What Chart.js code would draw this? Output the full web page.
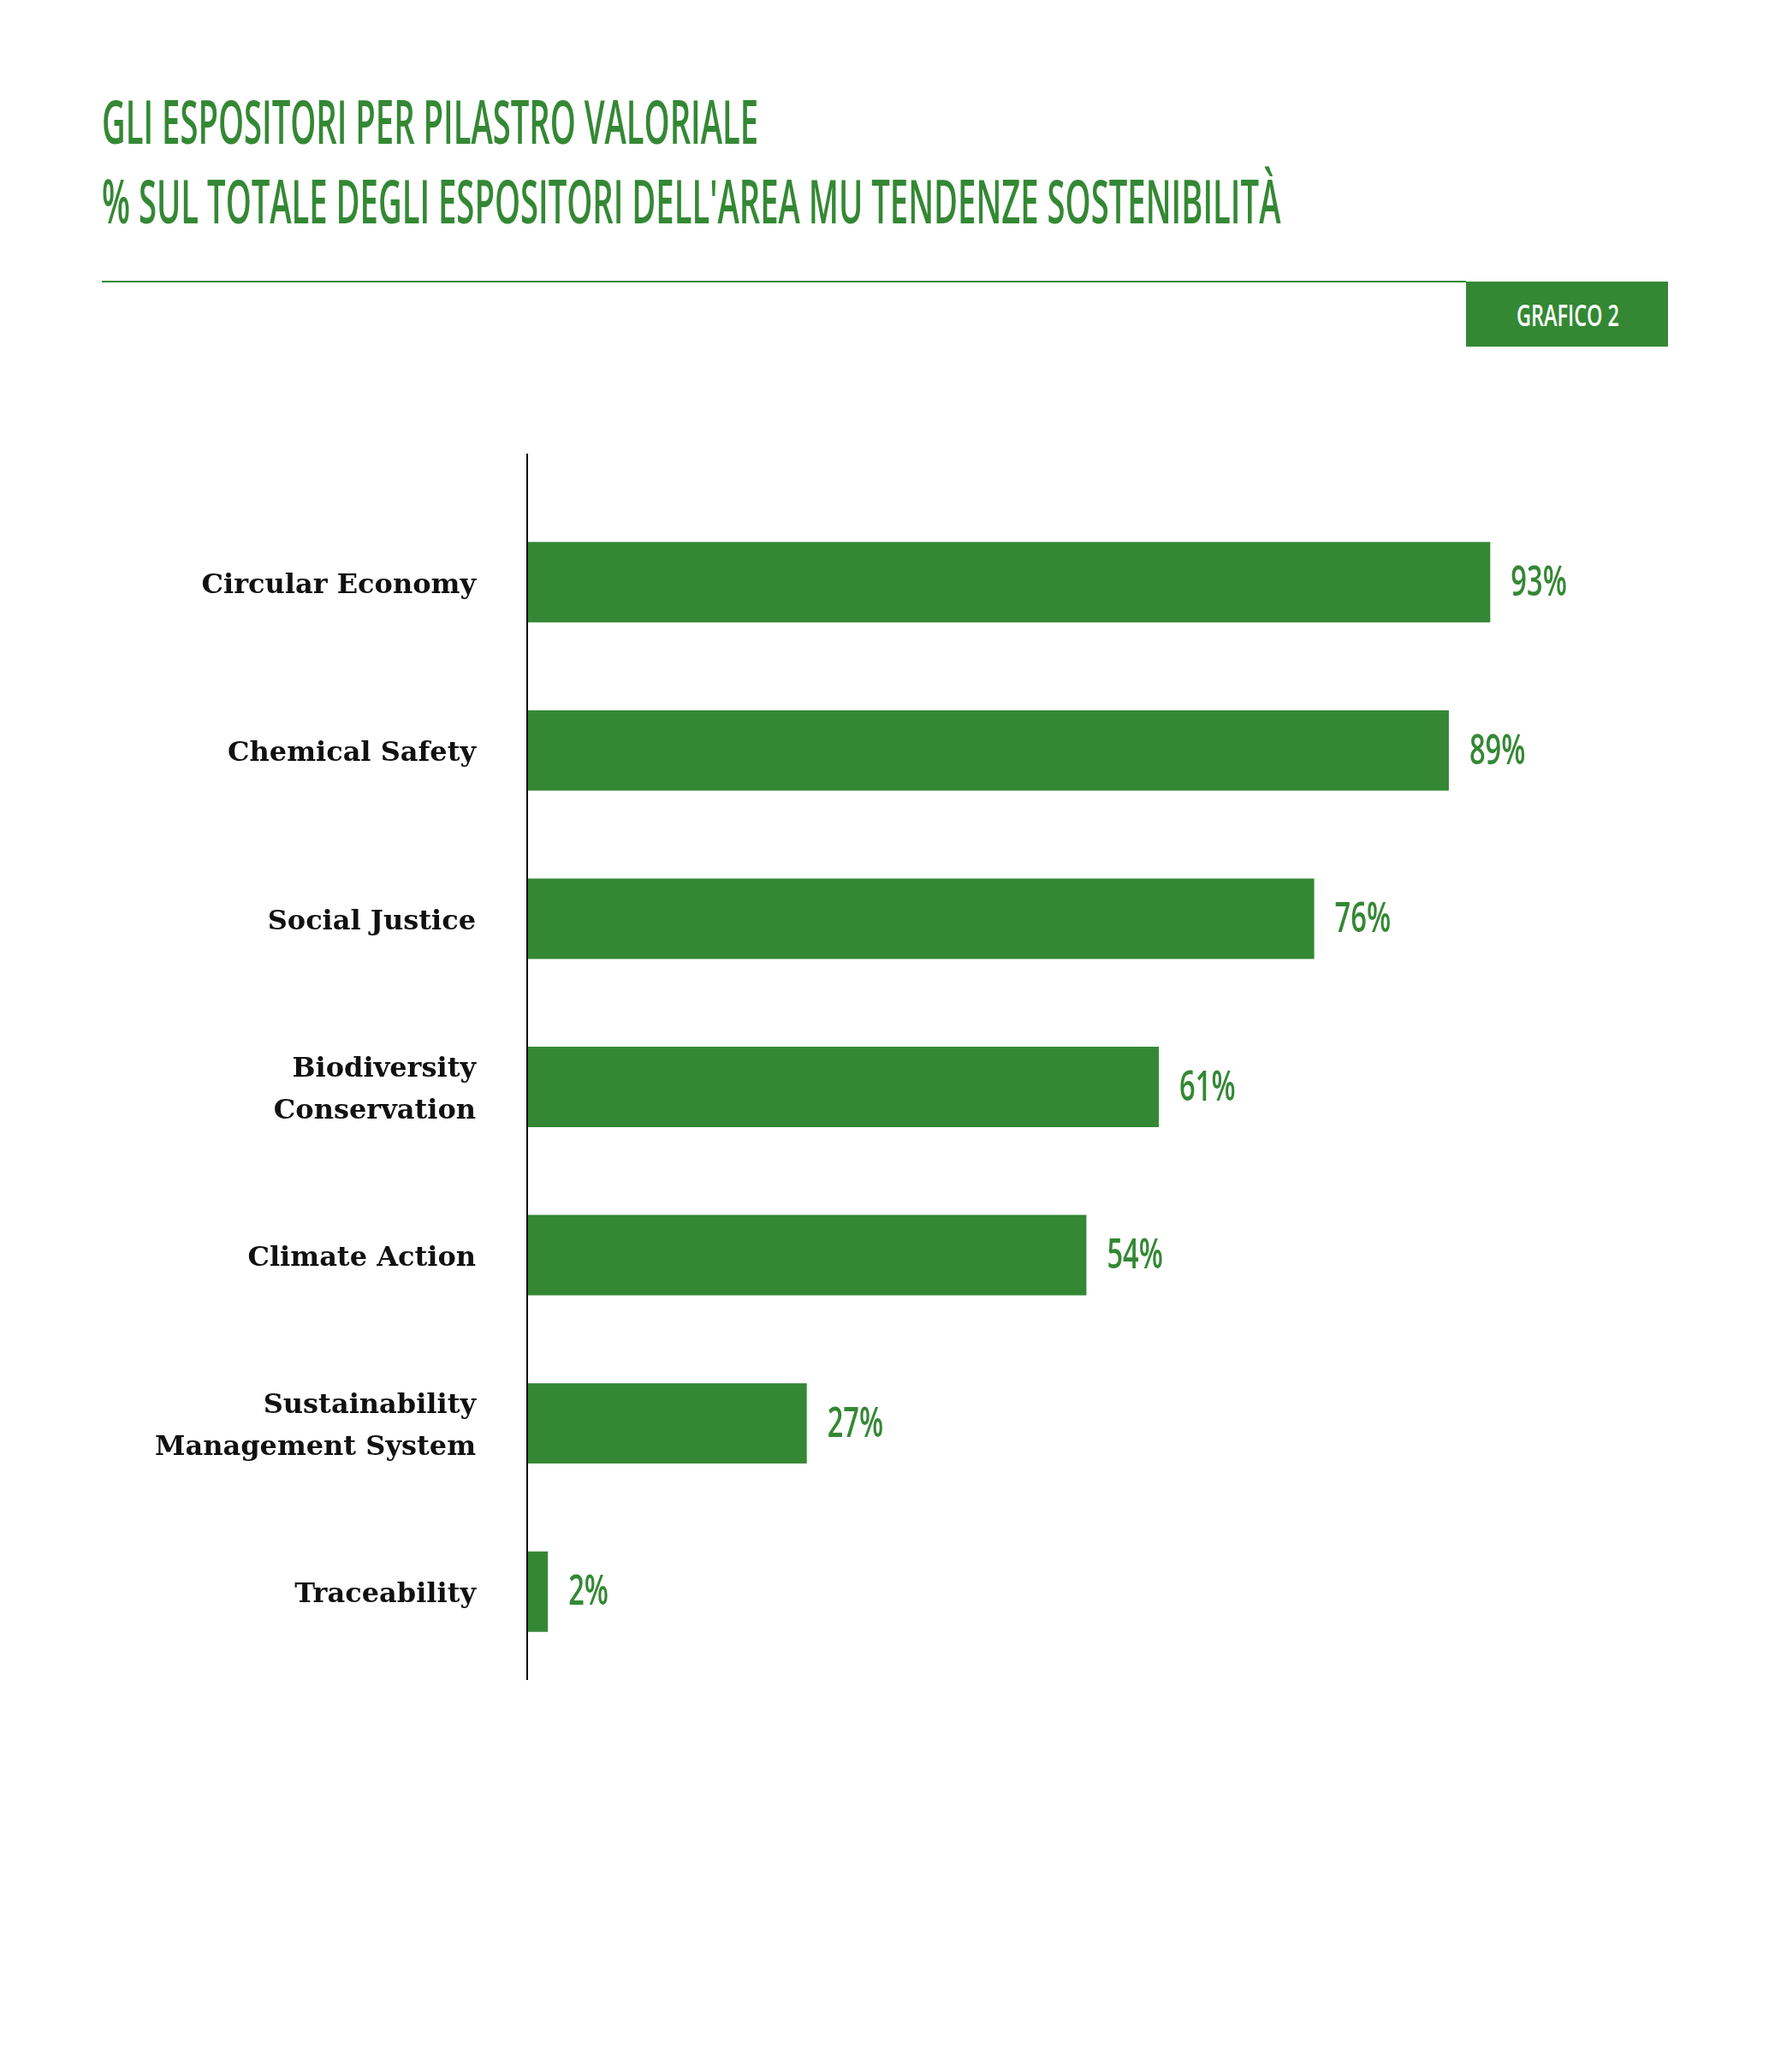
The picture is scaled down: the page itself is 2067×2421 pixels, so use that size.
<!DOCTYPE html>
<html>
<head>
<meta charset="utf-8">
<script src="https://cdn.jsdelivr.net/npm/chart.js@4.4.1/dist/chart.umd.min.js"></script>
<style>
  html, body { margin: 0; padding: 0; background: #fff; }
  body { width: 2067px; height: 2421px; position: relative; overflow: hidden; }
  .title { position: absolute; left: 119px; font-family: "Open Sans", sans-serif; font-weight: 600;
           font-size: 70px; line-height: 70px; color: #348834; white-space: nowrap;
           transform: scaleX(0.546); transform-origin: left top; }
  #rule { position: absolute; left: 119px; top: 328px; width: 1594px; height: 2px; background: #348834; }
  #tag { position: absolute; left: 1713px; top: 329px; width: 236px; height: 76px; background: #348834; }
  #tag span { position: absolute; left: 59px; top: 21px; font-family: "Open Sans", sans-serif; font-weight: 600;
              font-size: 35px; line-height: 35px; color: #fff; white-space: nowrap;
              transform: scaleX(0.67); transform-origin: left top; }
  #chart { position: absolute; left: 0; top: 0; }
</style>
</head>
<body>
<canvas id="chart" width="2067" height="2421"></canvas>
<div class="title" style="top:106px">GLI ESPOSITORI PER PILASTRO VALORIALE</div>
<div class="title" style="top:199px">% SUL TOTALE DEGLI ESPOSITORI DELL'AREA MU TENDENZE SOSTENIBILITÀ</div>
<div id="rule"></div>
<div id="tag"><span>GRAFICO 2</span></div>
<script>
// categories and values
const categories = [
    ['Circular Economy'],
    ['Chemical Safety'],
    ['Social Justice'],
    ['Biodiversity', 'Conservation'],
    ['Climate Action'],
    ['Sustainability', 'Management System'],
    ['Traceability']
];
const shares = [93, 89, 76, 61, 54, 27, 2];

const green = '#348834';

// value labels at the end of each bar, in a narrowed font
const valueLabels = {
    id: 'valueLabels',
    afterDatasetsDraw(chart) {
        const ctx = chart.ctx;
        const meta = chart.getDatasetMeta(0);
        ctx.save();
        ctx.fillStyle = green;
        ctx.font = '600 48px "Open Sans"';
        ctx.textBaseline = 'middle';
        meta.data.forEach((bar, i) => {
            ctx.save();
            ctx.translate(bar.x + 24, bar.y + 2);
            ctx.scale(0.68, 1);
            ctx.fillText(shares[i] + '%', 0, 0);
            ctx.restore();
        });
        ctx.restore();
    }
};

// vertical axis line, a bit longer than the bars' area
const axisLine = {
    id: 'axisLine',
    afterDraw(chart) {
        const ctx = chart.ctx;
        const x = chart.scales.x.getPixelForValue(0);
        ctx.save();
        ctx.strokeStyle = '#000';
        ctx.lineWidth = 2;
        ctx.beginPath();
        ctx.moveTo(x, chart.chartArea.top - 52);
        ctx.lineTo(x, chart.chartArea.bottom + 5);
        ctx.stroke();
        ctx.restore();
    }
};

const ctx = document.getElementById('chart').getContext('2d');
new Chart(ctx, {
    type: 'bar',
    data: {
        labels: categories,
        datasets: [{
            data: shares,
            backgroundColor: green,
            borderWidth: 0,
            categoryPercentage: 1,
            barPercentage: 0.478
        }]
    },
    options: {
        indexAxis: 'y',
        responsive: false,
        animation: false,
        layout: { padding: { top: 582, bottom: 463, left: 0, right: 241 } },
        plugins: { legend: { display: false }, tooltip: { enabled: false } },
        scales: {
            x: { display: false, min: 0, max: 100 },
            y: {
                grid: { display: false, drawTicks: false },
                border: { display: false },
                ticks: {
                    padding: 60,
                    labelOffset: 4,
                    color: '#111',
                    font: { family: '"DejaVu Serif"', weight: 'bold', size: 32, lineHeight: 1.54 }
                },
                afterFit(scale) { scale.width = 616; }
            }
        }
    },
    plugins: [valueLabels, axisLine]
});
</script>
</body>
</html>
